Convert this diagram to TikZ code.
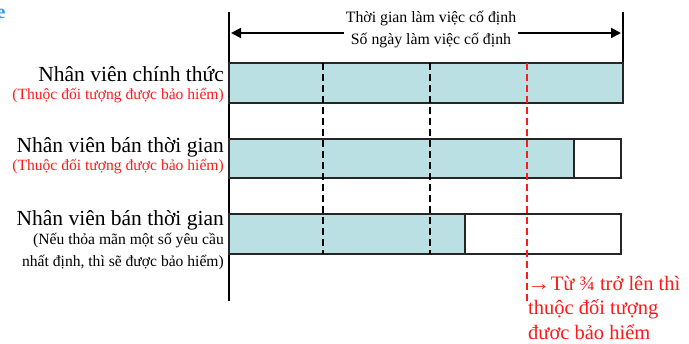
\documentclass[tikz,border=0pt]{standalone}
\usepackage{fontspec}
\setmainfont{Liberation Serif}
\usetikzlibrary{arrows.meta}
\definecolor{barblue}{HTML}{BAE0E3}
\definecolor{lblred}{HTML}{FF1A1A}
\definecolor{edgeblue}{HTML}{3399FF}
\begin{document}
\begin{tikzpicture}[x=1pt,y=-1pt,
  filled/.style={draw=black!85,line width=1.3pt,fill=barblue},
  blank/.style={draw=black!85,line width=1.3pt,fill=white},
  axis/.style={draw=black,line width=1.4pt},
  grid/.style={draw=black,line width=1.4pt,dash pattern=on 7pt off 4pt},
  rgrid/.style={draw=lblred,line width=1.3pt,dash pattern=on 7pt off 4pt},
  bigl/.style={anchor=east,inner sep=0pt,font=\fontsize{21.5}{24}\selectfont},
  smalll/.style={anchor=east,inner sep=0pt,align=right,font=\fontsize{15.6}{22}\selectfont},
  toptext/.style={fill=white,inner sep=2pt,align=center,font=\fontsize{15.8}{22}\selectfont}]
\useasboundingbox (0,0) rectangle (689,344);

% cropped blue fragment at top-left
\node[text=edgeblue,font=\fontsize{20}{20}\selectfont\bfseries,inner sep=0pt] (frag) at (1,14) {e};

% axis lines
\coordinate (lt) at (229,12);
\coordinate (lb) at (229,301);
\coordinate (rt) at (623,12);
\coordinate (rb) at (623,63);
\draw[axis] (lt) -- (lb);
\draw[axis] (rt) -- (rb);

% top double arrow
\coordinate (al) at (231,33);
\coordinate (ar) at (621,33);
\draw[line width=2pt,{Triangle[length=10pt,width=10pt]}-{Triangle[length=10pt,width=10pt]}] (al) -- (ar);
\node[toptext] (tt) at (431,29) {Thời gian làm việc cố định\\Số ngày làm việc cố định};

% bars
\draw[filled] (229,63) rectangle (623,103);
\draw[blank] (574,139) rectangle (621,178);
\draw[filled] (229,139) rectangle (574,178);
\draw[blank] (465,214) rectangle (621,254);
\draw[filled] (229,214) rectangle (465,254);

% dashed guides
\coordinate (d1t) at (323,63); \coordinate (d1b) at (323,254);
\coordinate (d2t) at (430,63); \coordinate (d2b) at (430,254);
\coordinate (d3t) at (527,63); \coordinate (d3b) at (527,301);
\draw[grid] (d1t) -- (d1b);
\draw[grid] (d2t) -- (d2b);
\draw[rgrid] (d3t) -- (d3b);

% left labels
\node[bigl] (l1) at (224,74) {Nhân viên chính thức};
\node[smalll,text=lblred] (s1) at (224,96) {(Thuộc đối tượng được bảo hiểm)};
\node[bigl] (l2) at (224,147) {Nhân viên bán thời gian};
\node[smalll,text=lblred] (s2) at (224,167) {(Thuộc đối tượng được bảo hiểm)};
\node[bigl] (l3) at (224,220) {Nhân viên bán thời gian};
\node[smalll] (s3) at (224,252) {(Nếu thỏa mãn một số yêu cầu\\nhất định, thì sẽ được bảo hiểm)};

% note
\node[anchor=north west,inner sep=0pt,align=left,text=lblred,font=\fontsize{20.5}{24.5}\selectfont] (note) at (528,276) {\hspace{-1pt}\scalebox{1.15}[1]{→}Từ ¾ trở lên thì\\thuộc đối tượng\\đươc bảo hiểm};
\end{tikzpicture}
\end{document}
